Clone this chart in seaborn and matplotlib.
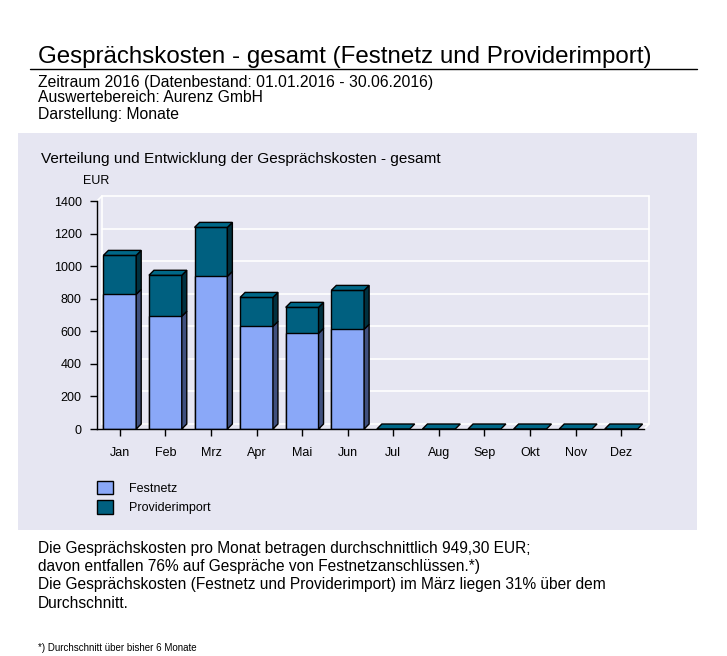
import matplotlib
matplotlib.use("Agg")
import matplotlib.pyplot as plt
from matplotlib.patches import Polygon, Rectangle, Patch
from matplotlib.lines import Line2D
import seaborn as sns
import pandas as pd

# monthly costs in EUR
months = ["Jan", "Feb", "Mrz", "Apr", "Mai", "Jun",
          "Jul", "Aug", "Sep", "Okt", "Nov", "Dez"]
festnetz = [827, 692, 937, 630, 587, 612, 0, 0, 0, 0, 0, 0]
provider = [239, 252, 301, 178, 160, 239, 0, 0, 0, 0, 0, 0]
y_ticks = [0, 200, 400, 600, 800, 1000, 1200, 1400]

df = pd.DataFrame({"Monat": months, "Festnetz": festnetz, "Providerimport": provider})
df["Gesamt"] = df["Festnetz"] + df["Providerimport"]

LIGHT = "#8aa8f8"
LIGHT_SIDE = "#40507e"
DARK = "#006080"
DARK_SIDE = "#00303f"
DARK_TOP = "#006888"
PANEL = "#e6e6f2"

sns.set_style("white")
plt.rcParams["font.family"] = ["Liberation Sans", "DejaVu Sans"]
plt.rcParams["text.color"] = "black"
plt.rcParams["xtick.color"] = "black"
plt.rcParams["ytick.color"] = "black"
plt.rcParams["xtick.labelcolor"] = "black"
plt.rcParams["ytick.labelcolor"] = "black"

W, H = 727, 656
fig = plt.figure(figsize=(W / 100, H / 100), dpi=100)
fig.patch.set_facecolor("white")

def fx(px):
    return px / W

def fy(py):
    return 1 - py / H

# lavender panel behind the chart
fig.patches.append(Rectangle((fx(18), fy(530)), fx(697) - fx(18), fy(133) - fy(530),
                             transform=fig.transFigure, facecolor=PANEL, edgecolor="none", zorder=-5))

# header
fig.text(fx(38), fy(57), "Gesprächskosten - gesamt (Festnetz und Providerimport)",
         fontsize=17.4, va="center", ha="left")
fig.add_artist(Line2D([fx(30), fx(697)], [fy(69), fy(69)], color="black", lw=1,
                      transform=fig.transFigure))
header = ["Zeitraum 2016 (Datenbestand: 01.01.2016 - 30.06.2016)",
          "Auswertebereich: Aurenz GmbH",
          "Darstellung: Monate"]
for i, line in enumerate(header):
    fig.text(fx(38), fy(82 + 16 * i), line, fontsize=11.3, va="center", ha="left")

fig.text(fx(41), fy(159), "Verteilung und Entwicklung der Gesprächskosten - gesamt",
         fontsize=11.1, va="center", ha="left")
fig.text(fx(83), fy(181), "EUR", fontsize=9, va="center", ha="left")

# axes box: x 97..644 px, y 201..429 px
left, right, top, bottom = 97, 644, 201, 429
ax = fig.add_axes([fx(left), fy(bottom), fx(right) - fx(left), fy(top) - fy(bottom)])
ax.set_zorder(2)
ax.patch.set_alpha(0)

n = len(months)
ax.set_xlim(-0.5, n - 0.5)
ax.set_ylim(0, 1400)
dx = 5 / ((right - left) / n)
dy = 5 * 1400 / (bottom - top)
bw = 0.72

# back wall and floor of the 3D box
for v in y_ticks[1:]:
    ax.plot([-0.5 + dx, n - 0.5 + dx], [v + dy, v + dy], color="white", lw=1.2,
            zorder=0.5, clip_on=False)
ax.plot([-0.5 + dx, -0.5 + dx], [dy, 1400 + dy], color="white", lw=1.2, zorder=0.5, clip_on=False)
ax.plot([n - 0.5 + dx, n - 0.5 + dx], [dy, 1400 + dy], color="white", lw=1.2, zorder=0.5, clip_on=False)
ax.plot([-0.5, -0.5 + dx], [1400, 1400 + dy], color="white", lw=1.2, zorder=0.5, clip_on=False)
ax.plot([-0.5 + dx, n - 0.5 + dx, n - 0.5], [dy, dy, 0], color="white", lw=1.2,
        zorder=0.5, clip_on=False)

# front faces: total first, Festnetz on top of it
sns.barplot(data=df, x="Monat", y="Gesamt", order=months, color=DARK, saturation=1,
            width=bw, edgecolor="black", linewidth=1, ax=ax, zorder=2)
sns.barplot(data=df, x="Monat", y="Festnetz", order=months, color=LIGHT, saturation=1,
            width=bw, edgecolor="black", linewidth=1, ax=ax, zorder=2)

# side and top faces
for i, (f, t) in enumerate(zip(df["Festnetz"], df["Gesamt"])):
    xr = i + bw / 2
    xl = i - bw / 2
    for y0, y1, c in [(0, f, LIGHT_SIDE), (f, t, DARK_SIDE)]:
        if y1 > y0:
            ax.add_patch(Polygon([(xr, y0), (xr + dx, y0 + dy), (xr + dx, y1 + dy), (xr, y1)],
                                 closed=True, facecolor=c, edgecolor="black", lw=1,
                                 zorder=3, clip_on=False))
    ax.add_patch(Polygon([(xl, t), (xl + dx, t + dy), (xr + dx, t + dy), (xr, t)],
                         closed=True, facecolor=DARK_TOP, edgecolor="black", lw=1,
                         zorder=3, clip_on=False))

ax.set_xlim(-0.5, n - 0.5)
ax.set_ylim(0, 1400)
ax.set_xlabel("")
ax.set_ylabel("")
ax.set_yticks(y_ticks)
ax.set_yticklabels([str(v) for v in y_ticks])
ax.tick_params(axis="both", which="both", direction="out", length=5, width=1,
               color="black", labelcolor="black", labelsize=9, pad=6, left=True, bottom=True)
ax.tick_params(axis="x", pad=8)
for s in ["top", "right"]:
    ax.spines[s].set_visible(False)
for s in ["left", "bottom"]:
    ax.spines[s].set_color("black")
    ax.spines[s].set_linewidth(1)
    ax.spines[s].set_zorder(4)
ax.grid(False)

handles = [Patch(facecolor=LIGHT, edgecolor="black", lw=1, label="Festnetz"),
           Patch(facecolor=DARK, edgecolor="black", lw=1, label="Providerimport")]
fig.legend(handles=handles, loc="upper left", bbox_to_anchor=(fx(97), fy(481)),
           frameon=False, fontsize=9, handlelength=1.25, handleheight=1.25,
           handletextpad=1.3, labelspacing=0.45, borderpad=0, borderaxespad=0,
           labelcolor="black")

notes = ["Die Gesprächskosten pro Monat betragen durchschnittlich 949,30 EUR;",
         "davon entfallen 76% auf Gespräche von Festnetzanschlüssen.*)",
         "Die Gesprächskosten (Festnetz und Providerimport) im März liegen 31% über dem",
         "Durchschnitt."]
for i, line in enumerate(notes):
    fig.text(fx(38), fy(548 + 18.5 * i), line, fontsize=11.2, va="center", ha="left")
fig.text(fx(38), fy(648), "*) Durchschnitt über bisher 6 Monate", fontsize=7, va="center", ha="left")

fig.savefig("out.png", dpi=100)
